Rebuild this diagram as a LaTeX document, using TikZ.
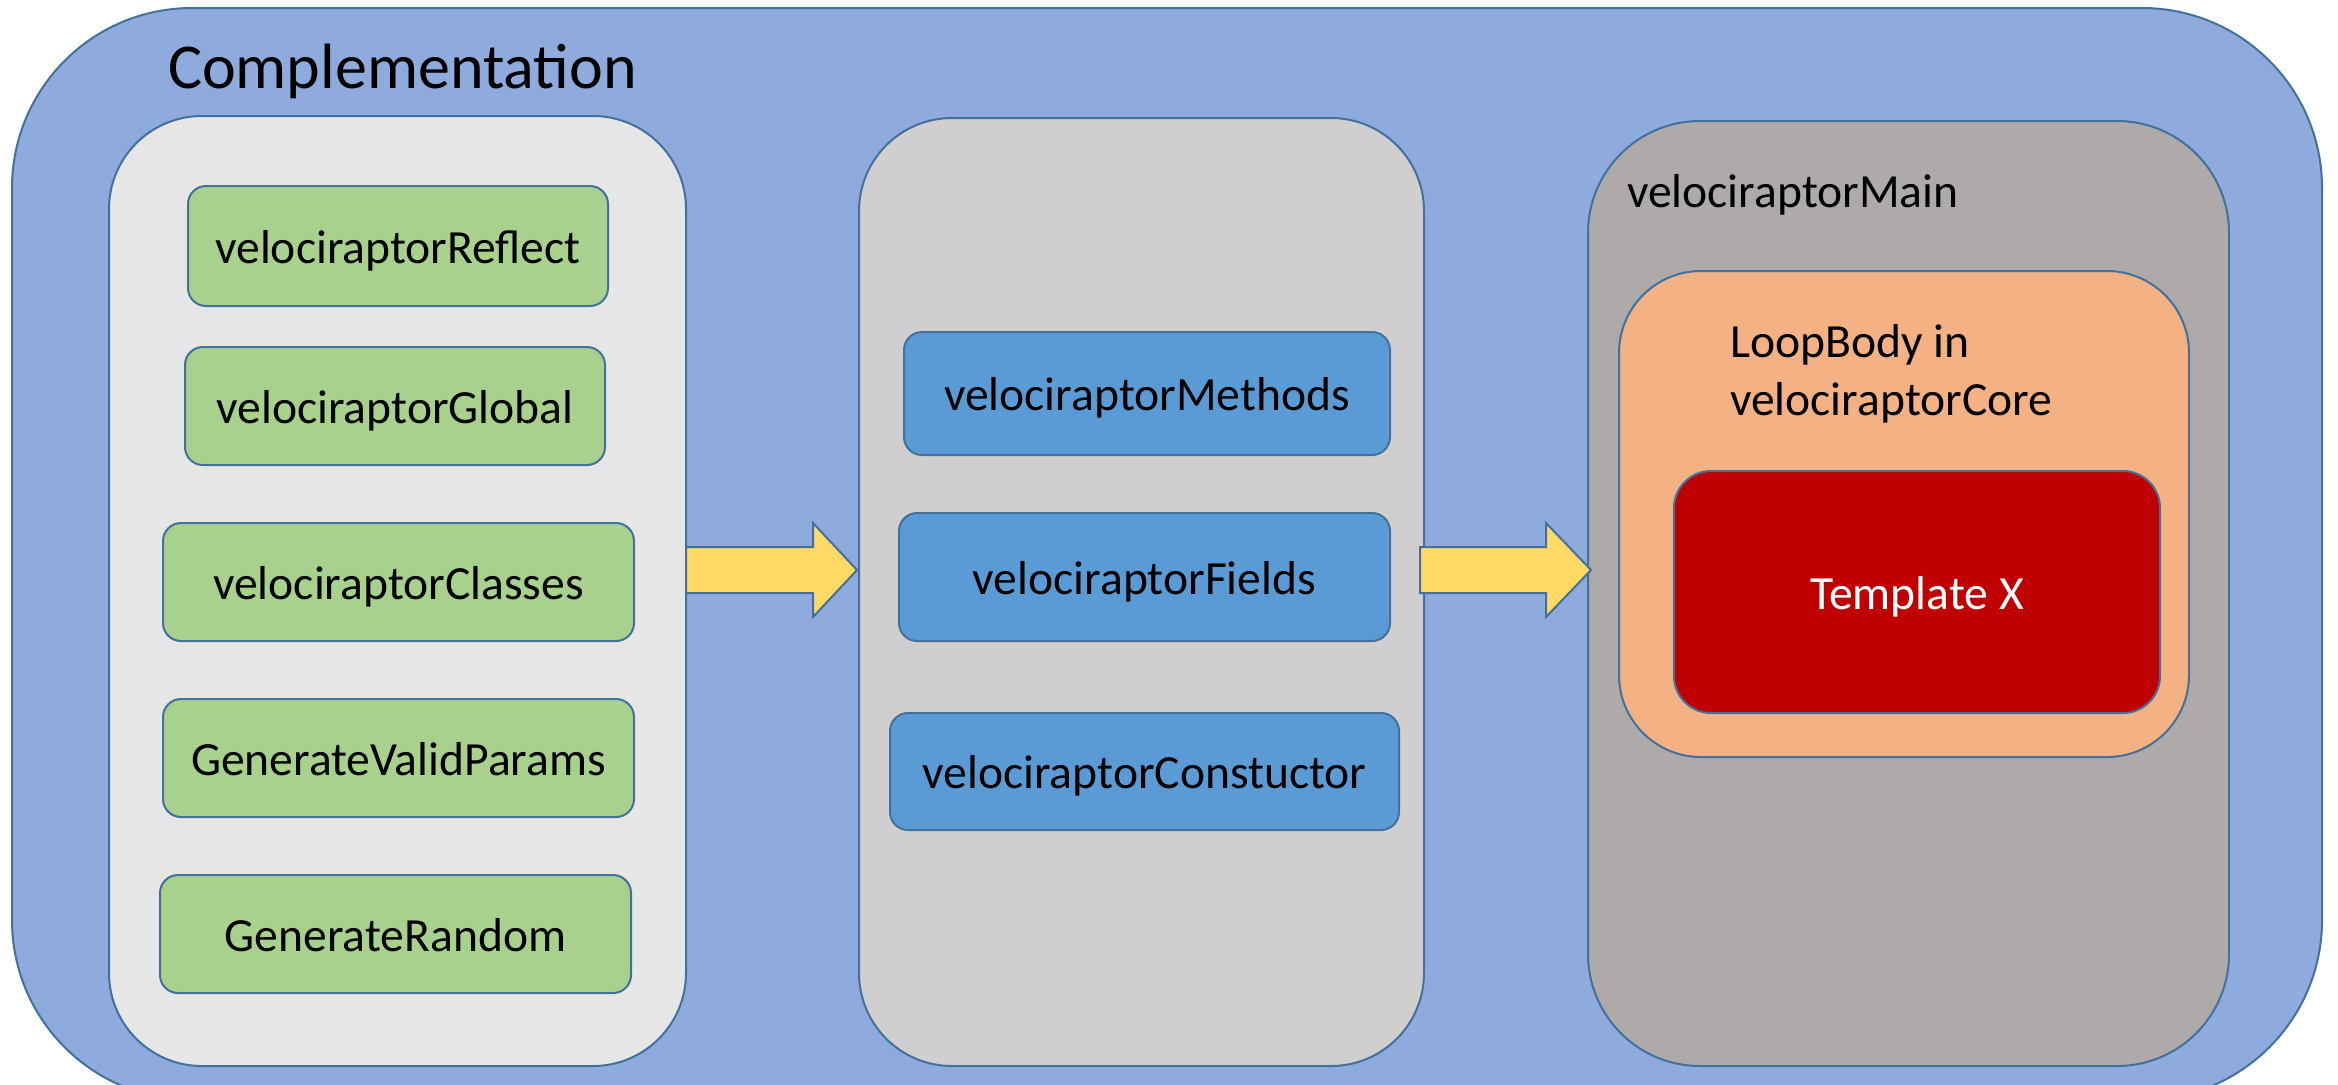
\documentclass[tikz,border=0pt]{standalone}
\usepackage{fontspec}
\setmainfont{Carlito}
\usetikzlibrary{calc}
\definecolor{outerfill}{HTML}{8FAADC}
\definecolor{edge}{HTML}{41719C}
\definecolor{panelA}{HTML}{E6E6E6}
\definecolor{panelB}{HTML}{D0CECE}
\definecolor{panelC}{HTML}{AEAAAA}
\definecolor{orangefill}{HTML}{F4B183}
\definecolor{redfill}{HTML}{C00000}
\definecolor{greenfill}{HTML}{A9D18E}
\definecolor{bluefill}{HTML}{5B9BD5}
\definecolor{yellowfill}{HTML}{FFD966}
\begin{document}
\begin{tikzpicture}[x=0.5pt,y=-0.5pt,
  font=\fontsize{23.8}{29}\selectfont,
  shape box/.style={draw=edge, line width=1pt, inner sep=0pt, outer sep=0pt},
  boxtext/.style={text height=20pt, text depth=3pt},
  panel/.style={shape box, rounded corners=46.5pt, minimum width=#1},
  greenbox/.style={shape box, boxtext, fill=greenfill, rounded corners=9pt, minimum height=59pt, minimum width=#1},
  bluebox/.style={shape box, boxtext, fill=bluefill, rounded corners=9pt, minimum width=#1},
  label/.style={anchor=base west, inner sep=0pt, outer sep=0pt},
  blockarrow/.style={draw=edge, line width=1pt, fill=yellowfill, line join=miter}]
\useasboundingbox (0,0) rectangle (2338,1084);
% outer container
\node[shape box, fill=outerfill, rounded corners=90pt, minimum width=1155pt, minimum height=546pt] (outer) at (1167,554) {};
\node[label, font=\fontsize{32}{38}\selectfont] (title) at (168,88) {Complementation};
% panels
\node[panel=288.5pt, fill=panelA, minimum height=475pt] (left) at (397.5,591) {};
\node[panel=282.5pt, fill=panelB, minimum height=474pt] (mid) at (1141.5,592) {};
\node[panel=320.5pt, fill=panelC, minimum height=472.5pt, rounded corners=56pt] (right) at (1908.5,593.5) {};
% green boxes
\node[greenbox=210pt, minimum height=60pt] (g1) at (398,246) {velociraptorReflect};
\node[greenbox=210pt] (g2) at (395,406) {velociraptorGlobal};
\node[greenbox=235.5pt] (g3) at (398.5,582) {velociraptorClasses};
\node[greenbox=235.5pt] (g4) at (398.5,758) {GenerateValidParams};
\node[greenbox=235.5pt] (g5) at (395.5,934) {GenerateRandom};
% blue boxes
\node[bluebox=243pt, minimum height=61.5pt] (b1) at (1147,393.5) {velociraptorMethods};
\node[bluebox=245.5pt, minimum height=64pt] (b2) at (1144.5,577) {velociraptorFields};
\node[bluebox=254.5pt, minimum height=58.5pt] (b3) at (1144.5,771.5) {velociraptorConstuctor};
% right panel content
\node[label] (mainlbl) at (1627,207) {velociraptorMain};
\node[shape box, fill=orangefill, rounded corners=41pt, minimum width=285pt, minimum height=243pt] (core) at (1904,514) {};
\node[label] (lb1) at (1730,357) {LoopBody in};
\node[label] (lb2) at (1730,415) {velociraptorCore};
\node[shape box, boxtext, fill=redfill, rounded corners=18.5pt, minimum width=243pt, minimum height=121pt, text=white] (tmpl) at (1917,592) {Template X};
% arrows
\coordinate (ay) at (0,570);
\path (left.east |- ay) coordinate (a1s) (mid.west |- ay) coordinate (a1e);
\path (mid.east |- ay) coordinate (a2s) (right.west |- ay) coordinate (a2e);
\draw[blockarrow] ($(a1s)+(0,-23)$) -- ($(a1e)+(-46,-23)$) -- ($(a1e)+(-46,-47)$) -- ($(a1e)+(-2,0)$) -- ($(a1e)+(-46,47)$) -- ($(a1e)+(-46,23)$) -- ($(a1s)+(0,23)$) -- cycle;
\draw[blockarrow] ($(a2s)+(-4,-23)$) -- ($(a2e)+(-42,-23)$) -- ($(a2e)+(-42,-47)$) -- ($(a2e)+(3,0)$) -- ($(a2e)+(-42,47)$) -- ($(a2e)+(-42,23)$) -- ($(a2s)+(-4,23)$) -- cycle;
\end{tikzpicture}
\end{document}
